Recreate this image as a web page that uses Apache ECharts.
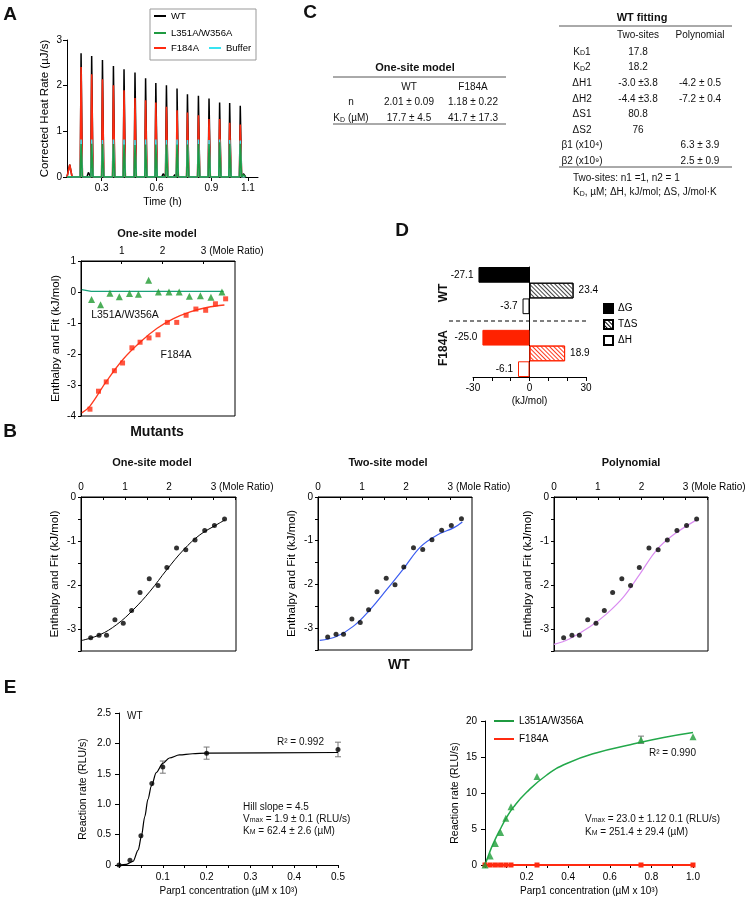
<!DOCTYPE html>
<html><head><meta charset="utf-8">
<script src="https://cdn.jsdelivr.net/npm/echarts@6/dist/echarts.min.js"></script>
<style>html,body{margin:0;padding:0;background:#fff}#c{width:747px;height:900px}</style>
</head><body><div id="c"></div>
<script>
const FONT = '"Liberation Sans", Arial, Helvetica, sans-serif';

// ---------- Panel A: thermogram ----------
const thermoTickValues = [0.3, 0.6, 0.9, 1.1];
const thermoStart = 0.11, thermoEnd = 1.085;
const injectionTimes = [0.187,0.245,0.304,0.364,0.422,0.482,0.540,0.596,0.654,0.712,0.769,0.829,0.887,0.945,1.000,1.058];
const wtPeak     = [2.71,2.65,2.56,2.43,2.36,2.29,2.16,2.06,2.01,1.94,1.81,1.78,1.72,1.63,1.62,1.56];
const f184aPeak  = [2.41,2.25,2.14,2.01,1.90,1.73,1.68,1.63,1.54,1.46,1.41,1.35,1.27,1.27,1.19,1.15];
const bufferPeak = [0.82,0.82,0.81,0.82,0.82,0.81,0.82,0.82,0.81,0.82,0.81,0.82,0.81,0.82,0.81,0.80];
const dmPeak     = [0.72,0.73,0.72,0.72,0.71,0.70,0.71,0.71,0.71,0.71,0.71,0.72,0.72,0.76,0.73,0.73];
const wtBumps    = [[0.125,0.27],[0.227,0.10],[0.636,0.07],[0.700,0.05],[1.075,0.07]];
const f184aBumps = [[0.125,0.27]];
const bufferBumps = [];
const dmBumps    = [[1.075,0.05]];

// ---------- Panel A: mutants, one-site model ----------
const dmRatio      = [0.26,0.48,0.71,0.94,1.19,1.41,1.66,1.90,2.16,2.41,2.66,2.93,3.19,3.46];
const dmEnthalpy   = [-0.24,-0.41,-0.04,-0.15,-0.05,-0.07,0.38,0.0,0.0,0.0,-0.14,-0.12,-0.17,0.0];
const dmFitRatio   = [0.02,0.25,3.50];
const dmFitValue   = [0.08,0.02,0.02];
const f184aRatio   = [0.22,0.43,0.62,0.82,1.02,1.25,1.45,1.67,1.89,2.12,2.35,2.58,2.82,3.06,3.30,3.55];
const f184aEnthalpy= [-3.78,-3.20,-2.90,-2.54,-2.29,-1.80,-1.62,-1.48,-1.38,-0.98,-0.98,-0.75,-0.55,-0.59,-0.38,-0.22];
const f184aFitRatio= [0.02,0.22,0.63,1.04,1.45,1.86,2.27,2.68,3.09,3.52];
const f184aFitValue= [-3.90,-3.68,-2.87,-2.16,-1.62,-1.18,-0.86,-0.64,-0.50,-0.42];

// ---------- Panel B: WT fits ----------
const wtRatio    = [0.22,0.41,0.58,0.77,0.96,1.15,1.34,1.55,1.75,1.95,2.17,2.38,2.59,2.81,3.03,3.26];
const wtEnthalpy = [-3.20,-3.14,-3.14,-2.79,-2.87,-2.58,-2.17,-1.86,-2.01,-1.60,-1.16,-1.20,-0.98,-0.76,-0.65,-0.50];
const oneSiteFitRatio = [0.02,0.43,0.81,1.19,1.57,1.95,2.33,2.70,3.08,3.27];
const oneSiteFitValue = [-3.26,-3.13,-2.90,-2.56,-2.14,-1.65,-1.20,-0.86,-0.63,-0.52];
const twoSiteFitRatio = [0.04,0.42,0.80,1.18,1.56,1.95,2.33,2.71,3.09,3.28];
const twoSiteFitValue = [-3.28,-3.19,-2.96,-2.58,-2.12,-1.63,-1.14,-0.87,-0.70,-0.57];
const polyFitRatio    = [0.0,0.36,0.82,1.21,1.59,1.97,2.35,2.73,3.26];
const polyFitValue    = [-3.35,-3.22,-2.95,-2.65,-2.27,-1.74,-1.20,-0.86,-0.52];

// ---------- Panel C: tables ----------
const oneSiteCols = ['WT','F184A'];
const oneSiteRowLabels = ['n','K_{D} (µM)'];
const oneSiteWT    = ['2.01 ± 0.09','17.7 ± 4.5'];
const oneSiteF184A = ['1.18 ± 0.22','41.7 ± 17.3'];
const wtFitCols = ['Two-sites','Polynomial'];
const wtFitRowLabels = ['K_{D}1','K_{D}2','ΔH1','ΔH2','ΔS1','ΔS2','β1 (x10⁴)','β2 (x10⁹)'];
const wtFitTwoSites  = ['17.8','18.2','-3.0 ±3.8','-4.4 ±3.8','80.8','76','',''];
const wtFitPoly      = ['','','-4.2 ± 0.5','-7.2 ± 0.4','','','6.3 ± 3.9','2.5 ± 0.9'];
const wtFitNotes = ['Two-sites: n1 =1, n2 = 1','K_{D}, µM; ΔH, kJ/mol; ΔS, J/mol·K'];

// ---------- Panel D: thermodynamics ----------
const dGroups  = ['WT','F184A'];
const deltaG   = [-27.1,-25.0];
const tDeltaS  = [23.4,18.9];
const deltaH   = [-3.7,-6.1];
const dTicks   = [-30,0,30];

// ---------- Panel E: kinetics ----------
const wtConc    = [0,0.025,0.05,0.075,0.1,0.2,0.5];
const wtRate    = [0,0.08,0.48,1.34,1.61,1.84,1.90];
const wtRateErr = [0,0,0,0,0.1,0.1,0.12];
const wtHillConc = [0,0.017,0.032,0.044,0.051,0.059,0.066,0.074,0.085,0.1,0.115,0.138,0.168,0.2,0.5];
const wtHillRate = [0,0.01,0.06,0.25,0.47,0.80,1.08,1.30,1.52,1.67,1.76,1.81,1.83,1.84,1.85];
const dmConc    = [0,0.025,0.05,0.075,0.1,0.125,0.25,0.75,1.0];
const dmRate    = [0,1.25,3.0,4.5,6.5,8.1,12.3,17.4,17.8];
const dmRateErr = [0,0,0,0,0,0,0,0.5,0];
const dmFitConc = [0,0.02,0.04,0.072,0.104,0.136,0.2,0.297,0.393,0.538,0.698,0.859,1.0];
const dmFitRate = [0,1.6,3.0,4.9,6.6,8.0,10.1,12.5,14.1,15.6,16.7,17.7,18.4];
const f184aConc = [0,0.025,0.05,0.075,0.1,0.125,0.25,0.75,1.0];
const f184aRate = [0,0,0,0,0,0,0,0,0];

// ================= build =================
const BLACK='#000', RED='#ff2a10', GREEN='#1f9a40', CYAN='#38e4f2', BLUE='#3a5cf0', VIOLET='#d98cf0';
const zip = (a,b) => a.map((v,i)=>[v,b[i]]);

function thermoTrace(peaks, bumps){
  const ev = injectionTimes.map((t,i)=>({t, h:peaks[i], w:0.0045}))
    .concat(bumps.map(b=>({t:b[0], h:b[1], w:0.008})))
    .sort((a,b)=>a.t-b.t);
  const pts=[[thermoStart,0]];
  ev.forEach(e=>{pts.push([e.t-e.w,0],[e.t,e.h],[e.t+e.w*1.6,0]);});
  pts.push([thermoEnd,0]);
  return pts;
}

const lbl = {color:'#000', fontSize:10, fontFamily:FONT};
const axLine = {show:true, onZero:false, lineStyle:{color:'#000', width:1}};
const nameStyle = (s)=>({color:'#000', fontSize:s||10, fontFamily:FONT});

const grids = [
  {left:67, top:40, width:191, height:137},
  {left:81, top:261, width:154, height:155, show:true, borderColor:'#000', borderWidth:1},
  {left:81, top:497, width:155, height:154, show:true, borderColor:'#000', borderWidth:1},
  {left:318, top:497, width:154, height:153, show:true, borderColor:'#000', borderWidth:1},
  {left:554, top:497, width:154, height:154, show:true, borderColor:'#000', borderWidth:1},
  {left:473, top:267, width:113, height:110},
  {left:119, top:713, width:219, height:152},
  {left:485, top:721, width:208, height:144}
].map(g=>Object.assign({outerBoundsMode:'none', containLabel:false, backgroundColor:'transparent'}, g));

const moleRich = {sp:{width:58}};
function moleFmt(hideZero){
  return v => {
    if (Math.abs(v-Math.round(v))>1e-6) return '';
    if (hideZero && v===0) return '';
    return v===3 ? '{sp|}3 (Mole Ratio)' : String(Math.round(v));
  };
}
function moleAxis(gi, max, hideZero, interval){
  return {gridIndex:gi, type:'value', position:'top', min:0, max, interval:interval,
    axisLine:axLine, splitLine:{show:false},
    axisTick:{show:true, inside:true, length:3, lineStyle:{color:'#000'}},
    axisLabel:Object.assign({margin:5, formatter:moleFmt(hideZero), rich:moleRich, showMaxLabel:false}, lbl)};
}
function enthalpyAxis(gi, min, max, interval, gap){
  return {gridIndex:gi, type:'value', min, max, interval,
    axisLine:axLine, splitLine:{show:false},
    axisTick:{show:true, length:3, lineStyle:{color:'#000'}},
    axisLabel:Object.assign({margin:5, formatter:v=>Math.abs(v-Math.round(v))>1e-6?'':String(Math.round(v))}, lbl),
    name:'Enthalpy and Fit (kJ/mol)', nameLocation:'middle', nameGap:gap, nameTextStyle:nameStyle(11.5)};
}

const xAxes = [
  {gridIndex:0, type:'value', min:0.11, max:1.155, axisLine:axLine, splitLine:{show:false},
   axisTick:{show:true, customValues:thermoTickValues, length:4},
   axisLabel:Object.assign({customValues:thermoTickValues, formatter:v=>v.toFixed(1), margin:6}, lbl),
   name:'Time (h)', nameLocation:'middle', nameGap:20, nameTextStyle:nameStyle(10.5)},
  moleAxis(1, 3.78, true, 1),
  moleAxis(2, 3.52, false, 0.5),
  moleAxis(3, 3.5, false, 0.5),
  moleAxis(4, 3.52, false, 0.5),
  {gridIndex:5, type:'value', min:-30, max:30, interval:10, axisLine:axLine, splitLine:{show:false},
   axisTick:{show:true, length:4},
   axisLabel:Object.assign({margin:6, formatter:v=>dTicks.indexOf(v)>=0?String(v):''}, lbl),
   name:'(kJ/mol)', nameLocation:'middle', nameGap:19, nameTextStyle:nameStyle(10)},
  {gridIndex:6, type:'value', min:0, max:0.5, interval:0.05, axisLine:axLine, splitLine:{show:false},
   axisTick:{show:true, length:3},
   axisLabel:Object.assign({margin:7, formatter:v=>{const k=Math.round(v*100); return (k>0 && k%10===0)?(k/100).toFixed(1):'';}}, lbl),
   name:'Parp1 concentration (µM x 10³)', nameLocation:'middle', nameGap:21, nameTextStyle:nameStyle(10)},
  {gridIndex:7, type:'value', min:0, max:1.0, interval:0.1, axisLine:axLine, splitLine:{show:false},
   axisTick:{show:true, length:3},
   axisLabel:Object.assign({margin:7, formatter:v=>{const k=Math.round(v*10); return (k>0 && k%2===0)?(k/10).toFixed(1):'';}}, lbl),
   name:'Parp1 concentration (µM x 10³)', nameLocation:'middle', nameGap:21, nameTextStyle:nameStyle(10)}
];

const dCategories = [];
dGroups.forEach((g,i)=>{ dCategories.push(g+' ΔG', g+' TΔS', g+' ΔH'); if(i===0) dCategories.push('sep'); });

const yAxes = [
  {gridIndex:0, type:'value', min:0, max:3, interval:1, axisLine:axLine, splitLine:{show:false},
   axisTick:{show:true, length:4}, axisLabel:Object.assign({margin:5}, lbl),
   name:'Corrected Heat Rate (µJ/s)', nameLocation:'middle', nameGap:16, nameTextStyle:nameStyle(11.5)},
  enthalpyAxis(1, -4, 1, 1, 19),
  enthalpyAxis(2, -3.5, 0, 0.5, 20),
  enthalpyAxis(3, -3.5, 0, 0.5, 20),
  enthalpyAxis(4, -3.5, 0, 0.5, 20),
  {gridIndex:5, type:'category', inverse:true, data:dCategories,
   axisLine:{show:true, onZero:true, lineStyle:{color:'#000'}}, axisTick:{show:false}, axisLabel:{show:false}, splitLine:{show:false}},
  {gridIndex:6, type:'value', min:0, max:2.5, interval:0.5, axisLine:axLine, splitLine:{show:false},
   axisTick:{show:true, length:4},
   axisLabel:Object.assign({margin:8, formatter:v=>v===0?'0':v.toFixed(1)}, lbl),
   name:'Reaction rate (RLU/s)', nameLocation:'middle', nameGap:30, nameTextStyle:nameStyle(10.5)},
  {gridIndex:7, type:'value', min:0, max:20, interval:5, axisLine:axLine, splitLine:{show:false},
   axisTick:{show:true, length:4},
   axisLabel:Object.assign({margin:8}, lbl),
   name:'Reaction rate (RLU/s)', nameLocation:'middle', nameGap:24, nameTextStyle:nameStyle(10.5)}
];

function line(name, gi, data, color, width, extra){
  return Object.assign({type:'line', name, xAxisIndex:gi, yAxisIndex:gi, data, showSymbol:false, symbol:'none',
    lineStyle:{color, width}, itemStyle:{color}, silent:true}, extra||{});
}
function pts(name, gi, data, color, symbol, size){
  return {type:'scatter', name, xAxisIndex:gi, yAxisIndex:gi, data, symbol, symbolSize:size, itemStyle:{color}, z:5, silent:true};
}
function errorBars(name, gi, conc, rate, err, color){
  const data = [];
  conc.forEach((c,i)=>{ if(err[i]>0) data.push([c, rate[i]-err[i], rate[i]+err[i]]); });
  return {type:'custom', name, xAxisIndex:gi, yAxisIndex:gi, data, encode:{x:0, y:[1,2]}, z:3, silent:true,
    renderItem:(params, api)=>{
      const x=api.value(0), lo=api.coord([x, api.value(1)]), hi=api.coord([x, api.value(2)]), w=3;
      const st={stroke:color, lineWidth:1};
      return {type:'group', children:[
        {type:'line', shape:{x1:lo[0],y1:lo[1],x2:hi[0],y2:hi[1]}, style:st},
        {type:'line', shape:{x1:lo[0]-w,y1:lo[1],x2:lo[0]+w,y2:lo[1]}, style:st},
        {type:'line', shape:{x1:hi[0]-w,y1:hi[1],x2:hi[0]+w,y2:hi[1]}, style:st}]};
    }};
}

// D bars
const slot = (gi, k) => gi*4 + k; // WT:0,1,2  sep:3  F184A:4,5,6
const grpColor = [BLACK, '#ff2200'];
const hatchColor = ['#444', '#ff3a20'];
function hatch(c){ return {symbol:'rect', symbolSize:1, color:c, dashArrayX:[1,0], dashArrayY:[1,1.2], rotation:Math.PI/4}; }
function dSeries(name, vals, k, kind){
  const data = dCategories.map(()=>null);
  vals.forEach((v,gi)=>{
    const c = grpColor[gi];
    let st;
    if (kind==='fill') st = {color:c, borderColor:c, borderWidth:1};
    else if (kind==='hatch') st = {color:'#fff', borderColor:c, borderWidth:1, decal:hatch(hatchColor[gi])};
    else st = {color:'#fff', borderColor:c, borderWidth:1};
    data[slot(gi,k)] = {value:v, itemStyle:st};
  });
  const base = kind==='fill' ? {color:BLACK, borderColor:BLACK, borderWidth:1}
             : kind==='hatch' ? {color:'#fff', borderColor:BLACK, borderWidth:1, decal:{symbol:'rect', symbolSize:1, color:'#000', dashArrayX:[1,0], dashArrayY:[1,2], rotation:Math.PI/4}}
             : {color:'#fff', borderColor:BLACK, borderWidth:1};
  return {type:'bar', name, xAxisIndex:5, yAxisIndex:5, data, barGap:'-100%', barCategoryGap:'0%', itemStyle:base, silent:true,
    label:{show:true, position: vals[0]<0?'left':'right', distance:5, color:'#000', fontSize:10, fontFamily:FONT,
      formatter:p=>p.value==null?'':Number(p.value).toFixed(1)}};
}

const series = [
  // A thermogram (drawn back to front)
  line('WT', 0, thermoTrace(wtPeak, wtBumps), BLACK, 1.5),
  line('F184A', 0, thermoTrace(f184aPeak, f184aBumps), RED, 1.6),
  line('Buffer', 0, thermoTrace(bufferPeak, bufferBumps), CYAN, 1.5),
  line('L351A/W356A', 0, thermoTrace(dmPeak, dmBumps), GREEN, 1.5),
  // A mutants
  line('dm fit', 1, zip(dmFitRatio, dmFitValue), '#19a07a', 1.3),
  pts('dm pts', 1, zip(dmRatio, dmEnthalpy), '#1f9a30', 'triangle', 7),
  line('f184a fit', 1, zip(f184aFitRatio, f184aFitValue), '#ff3b1f', 1.3, {smooth:0.4}),
  pts('f184a pts', 1, zip(f184aRatio, f184aEnthalpy), RED, 'rect', 5),
  // B
  line('one-site fit', 2, zip(oneSiteFitRatio, oneSiteFitValue), BLACK, 1, {smooth:0.4}),
  pts('wt pts 1', 2, zip(wtRatio, wtEnthalpy), BLACK, 'circle', 5),
  line('two-site fit', 3, zip(twoSiteFitRatio, twoSiteFitValue), BLUE, 1.2, {smooth:0.4}),
  pts('wt pts 2', 3, zip(wtRatio, wtEnthalpy), BLACK, 'circle', 5),
  line('poly fit', 4, zip(polyFitRatio, polyFitValue), VIOLET, 1.2, {smooth:0.4}),
  pts('wt pts 3', 4, zip(wtRatio, wtEnthalpy), BLACK, 'circle', 5),
  // D
  dSeries('ΔG', deltaG, 0, 'fill'),
  dSeries('TΔS', tDeltaS, 1, 'hatch'),
  dSeries('ΔH', deltaH, 2, 'open'),
  // E left
  errorBars('wt err', 6, wtConc, wtRate, wtRateErr, '#777'),
  line('wt hill', 6, zip(wtHillConc, wtHillRate), BLACK, 1.2, {smooth:0.3, smoothMonotone:'x'}),
  pts('wt rate', 6, zip(wtConc, wtRate), BLACK, 'circle', 5),
  // E right
  errorBars('dm err', 7, dmConc, dmRate, dmRateErr, '#777'),
  line('dm mm fit', 7, zip(dmFitConc, dmFitRate), '#22a84a', 1.5, {smooth:0.5}),
  pts('dm rate', 7, zip(dmConc, dmRate), '#1f9e3a', 'triangle', 7),
  line('f184a rate', 7, zip(f184aConc, f184aRate), RED, 2, {showSymbol:true, symbol:'rect', symbolSize:5})
];

// ---------- graphic text ----------
function richify(str, size, bold){
  const parts = str.split(/_\{([^}]*)\}/);
  let out='';
  parts.forEach((p,i)=>{ if(p==='') return; out += (i%2===1) ? '{s|'+p+'}' : '{n|'+p+'}'; });
  return {text:out, rich:{
    n:{fontSize:size, fontFamily:FONT, fontWeight:bold?'bold':'normal', fill:'#111', lineHeight:size+2, verticalAlign:'bottom'},
    s:{fontSize:Math.round(size*0.7), fontFamily:FONT, fill:'#111', lineHeight:Math.round(size*0.55), verticalAlign:'bottom'}}};
}
function T(x, y, str, o){
  o = o||{};
  const size=o.size||10, align=o.align||'center';
  const r = richify(str, size, o.bold);
  return {type:'text', x, y, rotation:o.rot||0, silent:true, z:100,
    style:{text:r.text, rich:r.rich, font:(o.bold?'bold ':'')+size+'px '+FONT, fill:'#111',
      align:align, verticalAlign:'middle', textAlign:align, textVerticalAlign:'middle'}};
}
function L(x1,y1,x2,y2,o){
  o=o||{};
  return {type:'line', silent:true, z:100, shape:{x1,y1,x2,y2}, style:{stroke:o.color||'#555', lineWidth:o.w||1, lineDash:o.dash||null}};
}

const graphics = [];
[['A',10,14],['B',10,431],['C',310,12],['D',402,230],['E',10,687]].forEach(a=>graphics.push(T(a[1],a[2],a[0],{size:19,bold:true})));
graphics.push(T(157,233,'One-site model',{size:11,bold:true}));
graphics.push(T(157,431,'Mutants',{size:14,bold:true}));
graphics.push(T(152,462,'One-site model',{size:11,bold:true}));
graphics.push(T(388,462,'Two-site model',{size:11,bold:true}));
graphics.push(T(631,462,'Polynomial',{size:11,bold:true}));
graphics.push(T(399,664,'WT',{size:14,bold:true}));
graphics.push({type:'rect', silent:true, shape:{x:150,y:9,width:106,height:51}, style:{fill:'none', stroke:'#999', lineWidth:1}});
graphics.push(T(125,314,'L351A/W356A',{size:10.5}));
graphics.push(T(176,354,'F184A',{size:10.5}));
graphics.push(T(415,67,'One-site model',{size:11,bold:true}));
graphics.push(L(333,77,506,77));
oneSiteCols.forEach((c,i)=>graphics.push(T([409,473][i],86,c)));
oneSiteRowLabels.forEach((r,i)=>{
  const y = 101 + i*16.5;
  graphics.push(T(351,y,r));
  graphics.push(T(409,y,oneSiteWT[i]));
  graphics.push(T(473,y,oneSiteF184A[i]));
});
graphics.push(L(333,124,506,124));
graphics.push(T(642,17,'WT fitting',{size:11,bold:true}));
graphics.push(L(559,26,732,26));
wtFitCols.forEach((c,i)=>graphics.push(T([638,700][i],34,c)));
wtFitRowLabels.forEach((r,i)=>{
  const y = 51 + i*15.6;
  graphics.push(T(582,y,r));
  if (wtFitTwoSites[i]) graphics.push(T(638,y,wtFitTwoSites[i]));
  if (wtFitPoly[i]) graphics.push(T(700,y,wtFitPoly[i]));
});
graphics.push(L(559,167,732,167));
wtFitNotes.forEach((n,i)=>graphics.push(T(573,177+i*14.5,n,{align:'left'})));
graphics.push(T(443,293,dGroups[0],{size:12,bold:true,rot:Math.PI/2}));
graphics.push(T(443,348,dGroups[1],{size:12,bold:true,rot:Math.PI/2}));
graphics.push(L(449,321,587,321,{color:'#000',dash:[4,3]}));
graphics.push(T(127,715,'WT',{align:'left'}));
graphics.push(T(277,741,'R² = 0.992',{align:'left'}));
graphics.push(T(243,806,'Hill slope = 4.5',{align:'left'}));
graphics.push(T(243,818,'V_{max} = 1.9 ± 0.1 (RLU/s)',{align:'left'}));
graphics.push(T(243,830,'K_{M} = 62.4 ± 2.6 (µM)',{align:'left'}));
graphics.push(T(649,752,'R² = 0.990',{align:'left'}));
graphics.push(T(585,818,'V_{max} = 23.0 ± 1.12 0.1 (RLU/s)',{align:'left'}));
graphics.push(T(585,831,'K_{M} = 251.4 ± 29.4 (µM)',{align:'left'}));

const legTxt = {color:'#000', fontSize:9.5, fontFamily:FONT};
const option = {
  animation:false,
  backgroundColor:'#fff',
  textStyle:{fontFamily:FONT},
  grid:grids, xAxis:xAxes, yAxis:yAxes, series,
  legend:[
    {data:['WT','L351A/W356A'], orient:'vertical', left:154, top:11, icon:'rect', itemWidth:12, itemHeight:2, itemGap:7, textStyle:legTxt, selectedMode:false, padding:0},
    {data:['F184A','Buffer'], orient:'horizontal', left:154, top:43, icon:'rect', itemWidth:12, itemHeight:2, itemGap:10, textStyle:legTxt, selectedMode:false, padding:0},
    {data:['ΔG','TΔS','ΔH'], orient:'vertical', left:603, top:303, icon:'rect', itemWidth:9, itemHeight:9, itemGap:5, textStyle:{color:'#000',fontSize:10,fontFamily:FONT}, selectedMode:false, padding:0},
    {data:['L351A/W356A','F184A'], orient:'vertical', left:494, top:716, icon:'rect', itemWidth:20, itemHeight:2, itemGap:8, textStyle:{color:'#000',fontSize:10,fontFamily:FONT}, selectedMode:false, padding:0}
  ],
  graphic:graphics
};
const chart = echarts.init(document.getElementById('c'), null, {renderer:'canvas', width:747, height:900});
chart.setOption(option);
</script></body></html>
